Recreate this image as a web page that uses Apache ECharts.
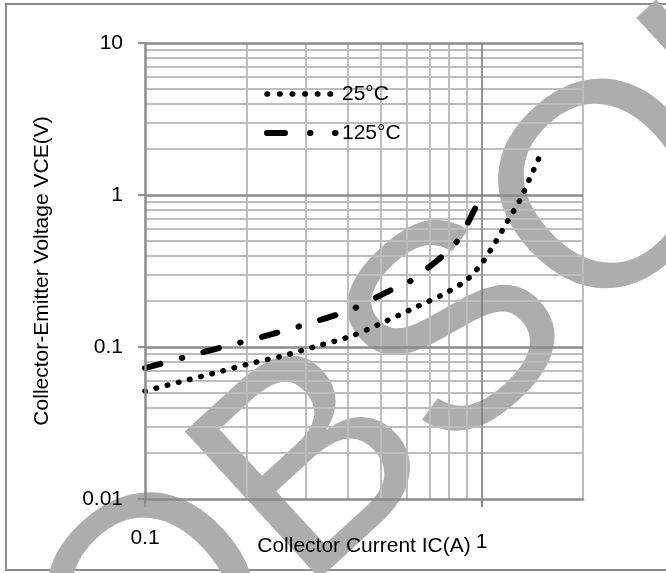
<!DOCTYPE html>
<html>
<head>
<meta charset="utf-8">
<script src="https://cdn.jsdelivr.net/npm/echarts@6/dist/echarts.min.js"></script>
<style>
html,body{margin:0;padding:0;background:#fff;}
#chart{width:666px;height:573px;}
</style>
</head>
<body>
<div id="chart"></div>
<script>
// ---- data ----
const xTickValues = [0.1, 1];
const xTickLabels = ['0.1', '1'];
const yTickValues = [0.01, 0.1, 1, 10];
const yTickLabels = ['0.01', '0.1', '1', '10'];
const xMinorLines = [0.2, 0.3, 0.4, 0.5, 0.6, 0.7, 0.8, 0.9, 2];
const yMinorLines = [0.02, 0.03, 0.04, 0.05, 0.06, 0.07, 0.08, 0.09,
                     0.2, 0.3, 0.4, 0.5, 0.6, 0.7, 0.8, 0.9,
                     2, 3, 4, 5, 6, 7, 8, 9];
const seriesNames = ['25°C', '125°C'];
const ic25 = [0.1, 0.127, 0.161, 0.203, 0.256, 0.325, 0.41, 0.513, 0.638, 0.793, 0.909, 1.007, 1.1, 1.194, 1.295, 1.387, 1.485];
const vce25 = [0.0513, 0.0589, 0.0674, 0.0773, 0.0873, 0.1015, 0.118, 0.146, 0.183, 0.23, 0.28, 0.362, 0.491, 0.674, 0.913, 1.274, 1.778];
const ic125 = [0.1, 0.132, 0.175, 0.234, 0.31, 0.407, 0.47, 0.538, 0.608, 0.692, 0.783, 0.855, 0.922, 0.993];
const vce125 = [0.0727, 0.086, 0.1015, 0.12, 0.144, 0.175, 0.204, 0.237, 0.268, 0.331, 0.415, 0.513, 0.695, 0.97];
const xTitle = 'Collector Current IC(A)';
const yTitle = 'Collector-Emitter Voltage VCE(V)';
const watermarkText = 'OBSOLETE';

// ---- chart ----
const FONT = '"Liberation Sans", Arial, sans-serif';
const chart = echarts.init(document.getElementById('chart'), null, {renderer: 'canvas'});

function zip(a, b) { return a.map((v, i) => [v, b[i]]); }
function nearestIndex(v, vals) {
  let best = -1, bd = Infinity;
  vals.forEach((t, i) => { const d = Math.abs(Math.log10(v) - Math.log10(t)); if (d < bd) { bd = d; best = i; } });
  return bd < 0.01 ? best : -1;
}

const minorStyle = {color: '#bdbdbd', width: 2, type: 'solid'};
const majorStyle = {color: '#8c8c8c', width: 2.5, type: 'solid'};

const gridLineData = [];
xMinorLines.forEach(v => gridLineData.push({xAxis: v, lineStyle: minorStyle}));
yMinorLines.forEach(v => gridLineData.push({yAxis: v, lineStyle: minorStyle}));
yTickValues.slice(1).forEach(v => gridLineData.push({yAxis: v, lineStyle: majorStyle}));
xTickValues.slice(1).forEach(v => gridLineData.push({xAxis: v, lineStyle: {color: '#7a7a7a', width: 1.6, type: 'solid'}}));

const option = {
  animation: false,
  backgroundColor: '#fff',
  textStyle: {fontFamily: FONT},
  grid: {left: 145, top: 43, right: 83, bottom: 74, containLabel: false, outerBoundsMode: 'none'},
  legend: {
    show: true,
    orient: 'vertical',
    left: 259,
    top: 78,
    itemWidth: 70,
    itemHeight: 14,
    itemGap: 17,
    z: 10,
    itemStyle: {opacity: 0},
    data: [
      {name: seriesNames[0], lineStyle: {color: '#000', width: 5.5, cap: 'round',
        type: [0.5, 12.1, 0.5, 12.1, 0.5, 12.1, 0.5, 12.1, 0.5, 12.1, 0.5, 40]}},
      {name: seriesNames[1], lineStyle: {color: '#000', width: 6, cap: 'round',
        type: [18, 25, 0.5, 24.5, 0.5, 40]}}
    ],
    textStyle: {fontFamily: FONT, fontSize: 21, color: '#000', lineHeight: 22}
  },
  xAxis: {
    type: 'log',
    logBase: 10,
    min: 0.1,
    max: 2,
    z: 10,
    name: xTitle,
    nameLocation: 'middle',
    nameGap: 37,
    nameMoveOverlap: false,
    nameTextStyle: {fontFamily: FONT, fontSize: 21, color: '#000'},
    axisLine: {show: true, lineStyle: {color: '#8c8c8c', width: 2.5}},
    axisTick: {show: true, length: 8, inside: false, customValues: xTickValues, lineStyle: {color: '#8c8c8c', width: 2}},
    axisLabel: {show: true, margin: 29, customValues: xTickValues, fontFamily: FONT, fontSize: 21, color: '#000',
      formatter: v => {
        const i = nearestIndex(v, xTickValues);
        if (i < 0) return '';
        return i === xTickValues.length - 1 ? '{b|' + xTickLabels[i] + '}' : xTickLabels[i];
      },
      rich: {b: {fontFamily: FONT, fontSize: 21, color: '#000', padding: [4, 0, 0, 0]}}
    },
    splitLine: {show: false},
    minorTick: {show: false},
    minorSplitLine: {show: false}
  },
  yAxis: {
    type: 'log',
    logBase: 10,
    min: 0.01,
    max: 10,
    z: 10,
    name: yTitle,
    nameLocation: 'middle',
    nameGap: 92,
    nameMoveOverlap: false,
    nameTextStyle: {fontFamily: FONT, fontSize: 21, color: '#000'},
    axisLine: {show: true, lineStyle: {color: '#8c8c8c', width: 2.5}},
    axisTick: {show: true, length: 7, inside: false, lineStyle: {color: '#8c8c8c', width: 2}},
    axisLabel: {show: true, margin: 22, fontFamily: FONT, fontSize: 21, color: '#000',
      formatter: v => { const i = nearestIndex(v, yTickValues); return i < 0 ? '' : yTickLabels[i]; }},
    splitLine: {show: false}
  },
  graphic: [
    {type: 'rect', z: 0, silent: true, shape: {x: 6, y: 4, width: 720, height: 566},
      style: {fill: 'none', stroke: '#8c8c8c', lineWidth: 2}},
    {type: 'text', z: 5, silent: true, x: 658, y: 160, rotation: 42.5 * Math.PI / 180,
      style: {text: watermarkText, font: 'normal 290px "Liberation Sans", Arial, sans-serif',
        fontSize: 290, fontFamily: '"Liberation Sans", Arial, sans-serif',
        fill: '#adadad', textAlign: 'center', textVerticalAlign: 'middle', align: 'center', verticalAlign: 'middle'}}
  ],
  series: [
    {
      name: '__grid',
      type: 'line',
      z: 1,
      silent: true,
      data: [],
      symbol: 'none',
      markLine: {
        silent: true,
        symbol: ['none', 'none'],
        label: {show: false},
        emphasis: {disabled: true},
        animation: false,
        data: gridLineData
      }
    },
    {
      name: seriesNames[0],
      type: 'line',
      z: 8,
      data: zip(ic25, vce25),
      smooth: 0.3,
      symbol: 'none',
      showSymbol: false,
      lineStyle: {color: '#000', width: 5.5, type: [0.5, 11], cap: 'round'},
      itemStyle: {color: '#000'}
    },
    {
      name: seriesNames[1],
      type: 'line',
      z: 8,
      data: zip(ic125, vce125),
      smooth: 0.3,
      symbol: 'none',
      showSymbol: false,
      lineStyle: {color: '#000', width: 6, type: [16, 22, 0.5, 22], cap: 'round'},
      itemStyle: {color: '#000'}
    }
  ]
};
chart.setOption(option);
</script>
</body>
</html>
